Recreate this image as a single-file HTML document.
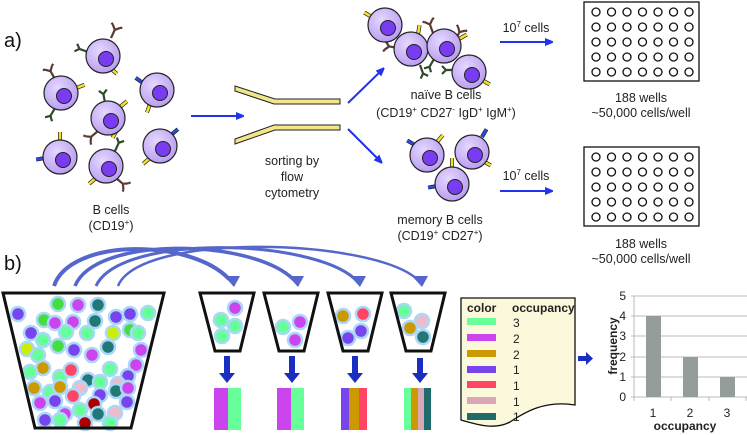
<!DOCTYPE html>
<html><head><meta charset="utf-8"><style>
body{margin:0;background:#fff;}
svg{display:block;font-family:"Liberation Sans",sans-serif;}
</style></head><body>
<svg width="747" height="435" viewBox="0 0 747 435" xmlns="http://www.w3.org/2000/svg">
<defs>
<radialGradient id="cg" cx="0.4" cy="0.35" r="0.7"><stop offset="0" stop-color="#e4d8ff"/><stop offset="1" stop-color="#b79af0"/></radialGradient>
<marker id="ah" markerWidth="8" markerHeight="8" refX="5" refY="4" orient="auto" markerUnits="userSpaceOnUse"><path d="M0,0 L10,4 L0,8 Z" fill="#2233ee"/></marker>
<g id="cell"><circle r="17" fill="url(#cg)" stroke="#222" stroke-width="1.2"/><circle cx="3" cy="3" r="7.5" fill="#7a3cf0" stroke="#222" stroke-width="1"/></g>
<g id="ab"><path d="M0,0 L0,-9 M0,-9 L-4,-13 M0,-9 L4,-13 M-4,-13 l-2,-1 M4,-13 l2,-1" stroke="#5a3a30" stroke-width="2.2" fill="none"/></g>
<g id="ab2"><path d="M0,0 L0,-9 M0,-9 L-4,-13 M0,-9 L4,-13" stroke="#2f4a2a" stroke-width="2.2" fill="none"/></g>
<g id="ys"><line x1="0" y1="0" x2="0" y2="-9" stroke="#222" stroke-width="4"/><line x1="0" y1="0" x2="0" y2="-9" stroke="#f3e22a" stroke-width="2.6"/></g>
<g id="bs"><line x1="0" y1="0" x2="0" y2="-9" stroke="#222" stroke-width="4"/><line x1="0" y1="0" x2="0" y2="-9" stroke="#2a4ae0" stroke-width="2.6"/></g>
<g id="wr" fill="none" stroke="#111" stroke-width="1.3">
<circle cx="596" cy="0" r="4"/><circle cx="611.5" cy="0" r="4"/><circle cx="627" cy="0" r="4"/><circle cx="642.5" cy="0" r="4"/><circle cx="658" cy="0" r="4"/><circle cx="673.5" cy="0" r="4"/><circle cx="689" cy="0" r="4"/>
</g>
</defs>

<text x="4" y="47" font-size="20" fill="#111">a)</text>

<!-- B cells -->
<g>
<use href="#ab" transform="translate(111,38) rotate(25)"/><use href="#ab2" transform="translate(88,52) rotate(-70)"/><use href="#ys" transform="translate(110,68) rotate(130)"/>
<use href="#cell" x="103" y="56"/>
<use href="#ab" transform="translate(55,79) rotate(-30)"/><use href="#ab2" transform="translate(55,108) rotate(-150)"/><use href="#ys" transform="translate(76,88) rotate(70)"/>
<use href="#cell" x="61" y="93"/>
<use href="#ab2" transform="translate(105,103) rotate(-10)"/><use href="#ab" transform="translate(98,131) rotate(-130)"/><use href="#ys" transform="translate(120,107) rotate(50)"/><use href="#ys" transform="translate(117,130) rotate(-150)"/>
<use href="#cell" x="108" y="118"/>
<use href="#bs" transform="translate(143,83) rotate(-55)"/><use href="#ys" transform="translate(150,104) rotate(-160)"/>
<use href="#cell" x="157" y="90"/>
<use href="#ys" transform="translate(60,141) rotate(0)"/><use href="#bs" transform="translate(45,158) rotate(-100)"/>
<use href="#cell" x="60" y="157"/>
<use href="#ab2" transform="translate(115,151) rotate(25)"/><use href="#ab" transform="translate(116,178) rotate(130)"/><use href="#ys" transform="translate(96,178) rotate(-130)"/>
<use href="#cell" x="106" y="166"/>
<use href="#bs" transform="translate(171,135) rotate(50)"/><use href="#ys" transform="translate(150,158) rotate(-130)"/>
<use href="#cell" x="160" y="146"/>
</g>
<text x="111" y="214" font-size="12.5" text-anchor="middle" fill="#222">B cells</text>
<text x="111" y="230" font-size="12.5" text-anchor="middle" fill="#222">(CD19<tspan font-size="8" dy="-5">+</tspan><tspan dy="5">)</tspan></text>

<line x1="191" y1="116" x2="241" y2="116" stroke="#2233ee" stroke-width="2" marker-end="url(#ah)"/>

<g fill="#f3e58a" stroke="#222" stroke-width="1">
<path d="M235,86 L275,99 L340,99 L340,104 L274,104 L235,91 Z"/>
<path d="M235,139 L274,125 L340,125 L340,130 L275,130 L235,144 Z"/>
</g>
<text x="292" y="165" font-size="12.5" text-anchor="middle" fill="#222">sorting by</text>
<text x="292" y="181" font-size="12.5" text-anchor="middle" fill="#222">flow</text>
<text x="292" y="197" font-size="12.5" text-anchor="middle" fill="#222">cytometry</text>

<line x1="348" y1="103" x2="382" y2="70" stroke="#2233ee" stroke-width="2" marker-end="url(#ah)"/>
<line x1="348" y1="129" x2="380" y2="161" stroke="#2233ee" stroke-width="2" marker-end="url(#ah)"/>

<!-- naive -->
<use href="#ys" transform="translate(372,17) rotate(-60)"/><use href="#ab" transform="translate(398,48) rotate(-80)"/><use href="#ab2" transform="translate(420,65) rotate(160)"/>
<use href="#ab" transform="translate(433,33) rotate(-20)"/><use href="#ys" transform="translate(418,34) rotate(10)"/><use href="#ys" transform="translate(459,39) rotate(60)"/>
<use href="#ab" transform="translate(455,40) rotate(30)"/><use href="#ab2" transform="translate(434,59) rotate(-150)"/><use href="#ab2" transform="translate(455,70) rotate(-90)"/><use href="#ys" transform="translate(482,80) rotate(120)"/>
<use href="#cell" x="385" y="25"/>
<use href="#cell" x="411" y="49"/>
<use href="#cell" x="444" y="46"/>
<use href="#cell" x="469" y="72"/>
<text x="446" y="99" font-size="12.5" text-anchor="middle" fill="#222">naïve B cells</text>
<text x="446" y="117" font-size="12.5" text-anchor="middle" fill="#222">(CD19<tspan font-size="8" dy="-5">+</tspan><tspan dy="5"> CD27</tspan><tspan font-size="8" dy="-5">-</tspan><tspan dy="5"> IgD</tspan><tspan font-size="8" dy="-5">+</tspan><tspan dy="5"> IgM</tspan><tspan font-size="8" dy="-5">+</tspan><tspan dy="5">)</tspan></text>

<!-- memory -->
<use href="#bs" transform="translate(415,145) rotate(-60)"/><use href="#ys" transform="translate(437,142) rotate(40)"/>
<use href="#bs" transform="translate(482,137) rotate(30)"/><use href="#ys" transform="translate(483,161) rotate(120)"/>
<use href="#ys" transform="translate(452,167) rotate(0)"/><use href="#bs" transform="translate(437,186) rotate(-100)"/>
<use href="#cell" x="427" y="155"/>
<use href="#cell" x="472" y="152"/>
<use href="#cell" x="452" y="184"/>
<text x="440" y="224" font-size="12.5" text-anchor="middle" fill="#222">memory B cells</text>
<text x="440" y="240" font-size="12.5" text-anchor="middle" fill="#222">(CD19<tspan font-size="8" dy="-5">+</tspan><tspan dy="5"> CD27</tspan><tspan font-size="8" dy="-5">+</tspan><tspan dy="5">)</tspan></text>

<text x="526" y="32" font-size="12.5" text-anchor="middle" fill="#222">10<tspan font-size="8" dy="-5">7</tspan><tspan dy="5"> cells</tspan></text>
<line x1="500" y1="42" x2="550" y2="42" stroke="#2233ee" stroke-width="2" marker-end="url(#ah)"/>
<text x="526" y="180" font-size="12.5" text-anchor="middle" fill="#222">10<tspan font-size="8" dy="-5">7</tspan><tspan dy="5"> cells</tspan></text>
<line x1="500" y1="191" x2="550" y2="191" stroke="#2233ee" stroke-width="2" marker-end="url(#ah)"/>

<g fill="none" stroke="#111" stroke-width="1.3">
<rect x="584" y="2" width="115" height="79"/>
<rect x="584" y="147" width="115" height="79"/>
</g>
<use href="#wr" y="12"/><use href="#wr" y="27"/><use href="#wr" y="42"/><use href="#wr" y="57"/><use href="#wr" y="72"/>
<use href="#wr" y="157"/><use href="#wr" y="172"/><use href="#wr" y="187"/><use href="#wr" y="202"/><use href="#wr" y="217"/>
<text x="641" y="102" font-size="12.5" text-anchor="middle" fill="#222">188 wells</text>
<text x="641" y="117" font-size="12.5" text-anchor="middle" fill="#222">~50,000 cells/well</text>
<text x="641" y="248" font-size="12.5" text-anchor="middle" fill="#222">188 wells</text>
<text x="641" y="263" font-size="12.5" text-anchor="middle" fill="#222">~50,000 cells/well</text>

<text x="4" y="270" font-size="20" fill="#111">b)</text>

<g fill="none" stroke="#5566cc">
<path d="M54,286 C70,238 190,238 229,279" stroke-width="4"/>
<path d="M75,286 C95,236 250,238 293,279" stroke-width="3.5"/>
<path d="M96,286 C120,234 310,238 355,279" stroke-width="3"/>
<path d="M118,286 C140,232 370,238 417,279" stroke-width="2.5"/>
</g>
<g fill="#5566cc">
<path d="M224,276 L240,276 L234,287 Z"/>
<path d="M288,276 L304,276 L298,287 Z"/>
<path d="M350,276 L366,276 L360,287 Z"/>
<path d="M412,276 L428,276 L422,287 Z"/>
</g>

<g stroke="#acd8f8" stroke-width="2.5">
<circle cx="18" cy="314" r="7" fill="#7744ee"/><circle cx="58" cy="304" r="7" fill="#44dd44"/><circle cx="78" cy="305" r="7" fill="#cc44ee"/><circle cx="98" cy="305" r="7" fill="#227777"/>
<circle cx="44" cy="320" r="7" fill="#44dd44"/><circle cx="55" cy="323" r="7" fill="#cc44ee"/><circle cx="73" cy="322" r="7" fill="#cc44ee"/><circle cx="95" cy="321" r="7" fill="#227777"/>
<circle cx="116" cy="317" r="7" fill="#7744ee"/><circle cx="130" cy="314" r="7" fill="#7744ee"/><circle cx="148" cy="313" r="7" fill="#66ff99"/>
<circle cx="31" cy="333" r="7" fill="#7744ee"/><circle cx="43" cy="340" r="7" fill="#66ff99"/><circle cx="66" cy="332" r="7" fill="#66ff99"/><circle cx="87" cy="333" r="7" fill="#66ff99"/>
<circle cx="27" cy="349" r="7" fill="#ccee00"/><circle cx="113" cy="333" r="7" fill="#ccee00"/><circle cx="130" cy="330" r="7" fill="#44dd44"/><circle cx="138" cy="333" r="7" fill="#66ff99"/>
<circle cx="58" cy="346" r="7" fill="#44dd44"/><circle cx="74" cy="350" r="7" fill="#7744ee"/><circle cx="108" cy="347" r="7" fill="#227777"/><circle cx="141" cy="350" r="7" fill="#cc44ee"/>
<circle cx="92" cy="355" r="7" fill="#cc44ee"/><circle cx="38" cy="355" r="7" fill="#66ff99"/>
<circle cx="43" cy="368" r="7" fill="#cc9900"/><circle cx="30" cy="372" r="7" fill="#66ff99"/><circle cx="60" cy="377" r="7" fill="#66ff99"/><circle cx="71" cy="370" r="7" fill="#ff4466"/>
<circle cx="110" cy="369" r="7" fill="#66ff99"/><circle cx="136" cy="365" r="7" fill="#cc44ee"/><circle cx="128" cy="376" r="7" fill="#7744ee"/><circle cx="88" cy="380" r="7" fill="#227777"/>
<circle cx="118" cy="384" r="7" fill="#eebbcc"/><circle cx="100" cy="382" r="7" fill="#66ff99"/><circle cx="80" cy="388" r="7" fill="#eebbcc"/>
<circle cx="34" cy="388" r="7" fill="#cc9900"/><circle cx="50" cy="392" r="7" fill="#66ff99"/><circle cx="60" cy="387" r="7" fill="#cc9900"/><circle cx="73" cy="396" r="7" fill="#ff4466"/>
<circle cx="100" cy="395" r="7" fill="#7744ee"/><circle cx="116" cy="391" r="7" fill="#227777"/><circle cx="128" cy="388" r="7" fill="#cc44ee"/>
<circle cx="40" cy="403" r="7" fill="#cc44ee"/><circle cx="55" cy="401" r="7" fill="#7744ee"/><circle cx="94" cy="404" r="7" fill="#aa0000"/><circle cx="127" cy="402" r="7" fill="#7744ee"/>
<circle cx="65" cy="414" r="7" fill="#cc44ee"/><circle cx="98" cy="414" r="7" fill="#227777"/><circle cx="115" cy="413" r="7" fill="#eebbcc"/><circle cx="80" cy="410" r="7" fill="#66ff99"/>
<circle cx="45" cy="420" r="7" fill="#7744ee"/><circle cx="60" cy="420" r="7" fill="#66ff99"/><circle cx="85" cy="423" r="7" fill="#aa0000"/><circle cx="110" cy="423" r="7" fill="#66ff99"/>
</g>
<path d="M3,293 L164,293 L131,428 L35,428 Z" fill="none" stroke="#111" stroke-width="3"/>

<g stroke="#acd8f8" stroke-width="2.5">
<circle cx="235" cy="308" r="7" fill="#cc44ee"/><circle cx="221" cy="320" r="7" fill="#66ff99"/><circle cx="235" cy="326" r="7" fill="#66ff99"/><circle cx="222" cy="336" r="7" fill="#66ff99"/>
<circle cx="283" cy="327" r="7" fill="#66ff99"/><circle cx="300" cy="322" r="7" fill="#cc44ee"/><circle cx="295" cy="340" r="7" fill="#cc44ee"/>
<circle cx="343" cy="316" r="7" fill="#cc9900"/><circle cx="363" cy="314" r="7" fill="#ff4466"/><circle cx="361" cy="331" r="7" fill="#7744ee"/><circle cx="348" cy="338" r="7" fill="#7744ee"/>
<circle cx="404" cy="311" r="7" fill="#66ff99"/><circle cx="422" cy="321" r="7" fill="#eebbcc"/><circle cx="410" cy="328" r="7" fill="#cc9900"/><circle cx="423" cy="337" r="7" fill="#227777"/>
</g>
<g fill="none" stroke="#111" stroke-width="3">
<path d="M200,293 L254,293 L240,351 L215,351 Z"/>
<path d="M264,293 L318,293 L304,351 L279,351 Z"/>
<path d="M328,293 L382,293 L368,351 L343,351 Z"/>
<path d="M391,293 L445,293 L431,351 L406,351 Z"/>
</g>

<g fill="#1a2fc0">
<rect x="224" y="356" width="6" height="18"/><path d="M219,373 L235,373 L227,383 Z"/>
<rect x="289" y="356" width="6" height="18"/><path d="M284,373 L300,373 L292,383 Z"/>
<rect x="352" y="356" width="6" height="18"/><path d="M347,373 L363,373 L355,383 Z"/>
<rect x="417" y="358" width="6" height="16"/><path d="M412,373 L428,373 L420,383 Z"/>
</g>

<rect x="214" y="388" width="14" height="42" fill="#cc44ee"/><rect x="228" y="388" width="13" height="42" fill="#66ff99"/>
<rect x="277" y="388" width="14" height="42" fill="#cc44ee"/><rect x="291" y="388" width="13" height="42" fill="#66ff99"/>
<rect x="341" y="388" width="8" height="42" fill="#7744ee"/><rect x="349" y="388" width="10" height="42" fill="#cc9900"/><rect x="359" y="388" width="8" height="42" fill="#ff4466"/>
<rect x="404" y="388" width="7" height="42" fill="#66ff99"/><rect x="411" y="388" width="7" height="42" fill="#cc9900"/><rect x="418" y="388" width="6" height="42" fill="#d8a8b8"/><rect x="424" y="388" width="7" height="42" fill="#1f6b6b"/>

<path d="M461,298 L575,298 L575,405 C545,400 525,412 510,422 C495,430 478,425 461,420 Z" fill="#fbf8dc" stroke="#111" stroke-width="1.3"/>
<text x="467" y="312" font-size="12" font-weight="bold" fill="#222">color</text>
<text x="512" y="312" font-size="12" font-weight="bold" fill="#222">occupancy</text>
<g font-size="12" fill="#222">
<rect x="467" y="318" width="29" height="7" fill="#66ff99"/><text x="513" y="327">3</text>
<rect x="467" y="334" width="29" height="7" fill="#cc44ee"/><text x="513" y="343">2</text>
<rect x="467" y="350" width="29" height="7" fill="#cc9900"/><text x="513" y="359">2</text>
<rect x="467" y="366" width="29" height="7" fill="#7744ee"/><text x="513" y="374">1</text>
<rect x="467" y="381" width="29" height="7" fill="#ff4466"/><text x="513" y="390">1</text>
<rect x="467" y="397" width="29" height="7" fill="#d8a8b8"/><text x="513" y="406">1</text>
<rect x="467" y="413" width="29" height="7" fill="#1f6b6b"/><text x="513" y="421">1</text>
</g>
<g fill="#1a2fc0"><rect x="578" y="356" width="9" height="5"/><path d="M586,352 L593,358.5 L586,365 Z"/></g>

<g stroke="#bbb" stroke-width="1">
<line x1="631" y1="296" x2="747" y2="296"/><line x1="631" y1="316" x2="747" y2="316"/><line x1="631" y1="336" x2="747" y2="336"/><line x1="631" y1="357" x2="747" y2="357"/><line x1="631" y1="377" x2="747" y2="377"/>
<line x1="634" y1="296" x2="634" y2="397"/><line x1="631" y1="397" x2="747" y2="397"/>
<line x1="671" y1="397" x2="671" y2="401"/><line x1="709" y1="397" x2="709" y2="401"/><line x1="746" y1="397" x2="746" y2="401"/><line x1="634" y1="397" x2="634" y2="401"/>
</g>
<g fill="#959d9b">
<rect x="646" y="316" width="15" height="81"/><rect x="683" y="357" width="15" height="40"/><rect x="720" y="377" width="15" height="20"/>
</g>
<g font-size="12" fill="#222" text-anchor="end">
<text x="626" y="300">5</text><text x="626" y="320">4</text><text x="626" y="340">3</text><text x="626" y="361">2</text><text x="626" y="381">1</text><text x="626" y="401">0</text>
</g>
<g font-size="12" fill="#222" text-anchor="middle">
<text x="653" y="417">1</text><text x="690" y="417">2</text><text x="727" y="417">3</text>
<text x="685" y="430" font-weight="bold">occupancy</text>
</g>
<text transform="translate(617,346) rotate(-90)" font-size="12" font-weight="bold" fill="#222" text-anchor="middle">frequency</text>
</svg>
</body></html>
